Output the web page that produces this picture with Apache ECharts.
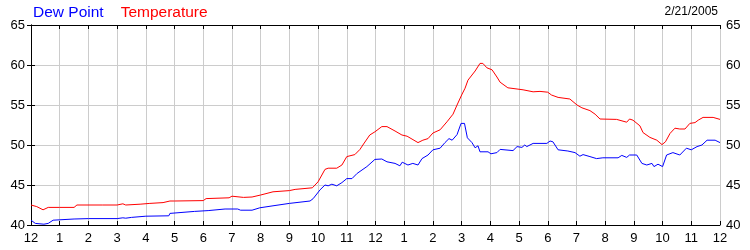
<!DOCTYPE html>
<html>
<head>
<meta charset="utf-8">
<script src="https://cdn.jsdelivr.net/npm/echarts@6/dist/echarts.min.js"></script>
<style>html,body{margin:0;padding:0;background:#fff}#c{width:750px;height:250px}</style>
</head>
<body>
<div id="c"></div>
<script>
var hourLabels = ['12','1','2','3','4','5','6','7','8','9','10','11','12','1','2','3','4','5','6','7','8','9','10','11','12'];
var yTicks = [40, 45, 50, 55, 60, 65];
var dateText = '2/21/2005';

var tempHours = [0,0.2,0.42,0.6,1.0,1.5,1.6,2.5,3.0,3.2,3.3,3.8,4.14,4.6,4.84,5.0,6.0,6.1,6.9,7.0,7.4,7.7,8.0,8.43,9.0,9.2,9.8,10.0,10.24,10.35,10.65,10.83,11.0,11.28,11.46,11.56,11.8,11.98,12.22,12.4,12.68,12.92,13.1,13.48,13.65,13.83,14.0,14.25,14.49,14.7,14.84,15.0,15.12,15.22,15.47,15.64,15.74,15.88,16.06,16.23,16.34,16.61,16.93,17.14,17.49,17.73,18.0,18.13,18.36,18.77,19.02,19.19,19.47,19.65,19.82,20.4,20.75,20.85,20.97,21.21,21.32,21.56,21.8,21.98,22.1,22.26,22.43,22.6,22.78,22.95,23.13,23.24,23.41,23.76,24.0];
var tempValues = [42.5,42.3,41.9,42.2,42.2,42.2,42.5,42.5,42.5,42.65,42.5,42.6,42.7,42.8,43.0,43.0,43.05,43.3,43.4,43.6,43.45,43.5,43.75,44.15,44.3,44.45,44.65,45.4,46.95,47.1,47.1,47.5,48.55,48.8,49.45,50.0,51.25,51.65,52.3,52.3,51.75,51.25,51.1,50.3,50.6,50.8,51.5,51.9,52.9,53.85,55.0,56.25,57.1,58.1,59.25,60.2,60.2,59.65,59.4,58.5,57.85,57.15,57.0,56.9,56.65,56.7,56.6,56.25,55.95,55.75,55.0,54.65,54.3,53.85,53.25,53.2,52.85,53.25,53.1,52.4,51.55,50.95,50.6,50.05,50.4,51.45,52.1,52.0,52.0,52.7,52.8,53.1,53.45,53.45,53.2];

var dewHours = [0,0.15,0.45,0.6,0.77,1.0,1.5,2.0,3.0,3.2,3.3,3.5,4.0,4.8,4.84,5.7,6.17,6.76,7.2,7.3,7.7,7.97,8.43,9.0,9.72,9.83,10.07,10.24,10.35,10.48,10.65,10.83,11.0,11.18,11.36,11.7,11.98,12.22,12.4,12.68,12.85,12.93,13.13,13.3,13.48,13.62,13.83,14.0,14.25,14.42,14.56,14.67,14.84,14.98,15.1,15.2,15.36,15.47,15.57,15.64,15.92,16.02,16.23,16.34,16.79,16.93,17.1,17.2,17.27,17.49,17.97,18.08,18.18,18.36,18.7,18.95,19.12,19.23,19.47,19.7,19.92,20.45,20.58,20.75,20.85,21.1,21.28,21.45,21.63,21.7,21.84,22.0,22.14,22.36,22.6,22.83,23.0,23.2,23.37,23.55,23.83,24.0];
var dewValues = [40.6,40.2,40.1,40.2,40.6,40.65,40.75,40.8,40.8,40.9,40.85,40.95,41.1,41.15,41.45,41.7,41.8,42.0,42.0,41.85,41.85,42.15,42.4,42.7,43.0,43.3,44.4,45.0,44.9,45.1,44.9,45.3,45.8,45.8,46.45,47.3,48.2,48.25,47.9,47.7,47.4,47.85,47.5,47.7,47.5,48.3,48.75,49.4,49.6,50.3,50.8,50.6,51.3,52.7,52.7,50.9,50.3,49.65,49.9,49.15,49.15,48.9,49.05,49.45,49.3,49.8,49.7,50.0,49.8,50.2,50.2,50.5,50.4,49.4,49.25,49.05,48.6,48.8,48.55,48.3,48.4,48.4,48.7,48.45,48.75,48.75,47.7,47.5,47.7,47.3,47.6,47.3,48.75,49.05,48.75,49.6,49.4,49.8,50.0,50.6,50.6,50.3];

function pairs(xs, ys){ var out=[]; for (var i=0;i<xs.length;i++) out.push([xs[i], ys[i]]); return out; }

var chart = echarts.init(document.getElementById('c'), null, {renderer:'canvas'});
var font = 'Liberation Sans, Arial, sans-serif';
var yMin = yTicks[0], yMax = yTicks[yTicks.length-1], yStep = yTicks[1]-yTicks[0];

function yAxisDef(pos){
  return {
    type:'value', position:pos, min:yMin, max:yMax, interval:yStep,
    axisLine:{show:true, lineStyle:{color:'#000', width:1}},
    axisTick:{show:true, inside:false, length:4, lineStyle:{color:'#000'}},
    axisLabel:{show:true, color:'#000', fontFamily:font, fontSize:13, margin:6},
    splitLine:{show: pos==='left', lineStyle:{color:'#cccccc', width:1}}
  };
}
function xAxisDef(pos, showLabels){
  return {
    type:'value', position:pos, min:0, max:24, interval:1,
    axisLine:{show:true, onZero:false, lineStyle:{color:'#000', width:1}},
    axisTick:{show:true, inside:true, length:4, lineStyle:{color:'#000'}},
    axisLabel:{show:showLabels, color:'#000', fontFamily:font, fontSize:13, margin:7,
      formatter:function(v){ return hourLabels[Math.round(v)]; }},
    splitLine:{show: pos==='bottom', lineStyle:{color:'#cccccc', width:1}}
  };
}

chart.setOption({
  animation:false,
  backgroundColor:'#fff',
  grid:{left:31, right:30, top:25, bottom:25, containLabel:false},
  legend:{
    left:23, top:0, itemWidth:0, itemHeight:0, itemGap:12, icon:'rect',
    textStyle:{fontFamily:font, fontSize:15.5},
    data:[{name:'Dew Point', textStyle:{color:'#0000ff'}},{name:'Temperature', textStyle:{color:'#ff0000'}}],
    selectedMode:false
  },
  graphic:[{type:'text', right:32, top:6, style:{text:dateText, fill:'#000', font:'12px Liberation Sans, Arial, sans-serif'}}],
  xAxis:[xAxisDef('bottom', true), xAxisDef('top', false)],
  yAxis:[yAxisDef('left'), yAxisDef('right')],
  series:[
    {name:'Dew Point', type:'line', data:pairs(dewHours, dewValues), showSymbol:false, symbol:'none',
      lineStyle:{color:'#0000ff', width:1}, itemStyle:{color:'#0000ff'}, xAxisIndex:0, yAxisIndex:0},
    {name:'Temperature', type:'line', data:pairs(tempHours, tempValues), showSymbol:false, symbol:'none',
      lineStyle:{color:'#ff0000', width:1}, itemStyle:{color:'#ff0000'}, xAxisIndex:0, yAxisIndex:0}
  ]
});
</script>
</body>
</html>
